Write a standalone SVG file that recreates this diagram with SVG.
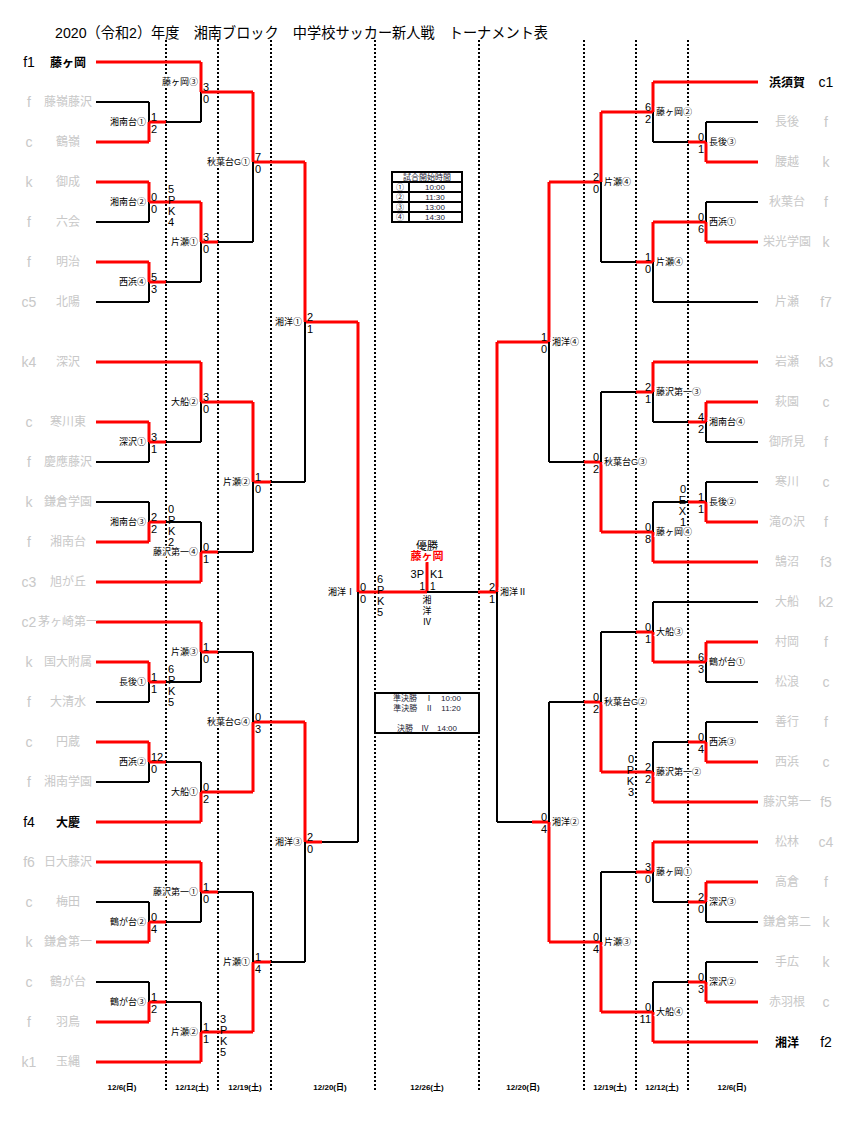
<svg xmlns="http://www.w3.org/2000/svg" width="856" height="1123" viewBox="0 0 856 1123">
<style>
text{font-family:"Liberation Sans","Noto Sans CJK JP",sans-serif;fill:#000}
.r{stroke:#f00;stroke-width:3;fill:none}
.k{stroke:#000;stroke-width:2;fill:none}
.d{stroke:#000;stroke-width:2;stroke-dasharray:2,2}
.nm{font-size:12px;fill:#c8c8c8;text-anchor:middle}
.sd{font-size:14px;fill:#c8c8c8;text-anchor:middle}
.nb{font-size:12px;font-weight:bold;text-anchor:middle}
.sb{font-size:14px;text-anchor:middle}
.ml{font-size:9px;stroke:#fff;stroke-width:3;paint-order:stroke}
.L{text-anchor:end}
.sc{font-size:11px}
.dt{font-size:8px;font-weight:bold;text-anchor:middle}
.tb{font-size:8px;fill:#223;text-anchor:middle}
</style>
<rect width="856" height="1123" fill="#fff"/>
<text x="55" y="38" textLength="493" lengthAdjust="spacingAndGlyphs" style="font-size:15px">2020（令和2）年度　湘南ブロック　中学校サッカー新人戦　トーナメント表</text>
<g id="dotted">
<line class="d" x1="166" y1="40" x2="166" y2="1092"/><line class="d" x1="218" y1="40" x2="218" y2="1092"/><line class="d" x1="271" y1="40" x2="271" y2="1092"/><line class="d" x1="375" y1="40" x2="375" y2="1092"/>
<line class="d" x1="479" y1="40" x2="479" y2="1092"/><line class="d" x1="584" y1="40" x2="584" y2="1092"/><line class="d" x1="636" y1="40" x2="636" y2="1092"/><line class="d" x1="688" y1="40" x2="688" y2="1092"/>
</g>
<g id="connectors">
<path class="r" d="M96 62H201M96 142H149M96 182H149M96 262H149M96 362H201M96 422H149M96 542H149M96 582H201M96 622H201M96 662H149M96 742H149M96 822H201M96 862H201M96 942H149M96 1022H149M96 1062H201"/>
<path class="k" d="M96 102H149M96 222H149M96 302H149M96 462H149M96 502H149M96 702H149M96 782H149M96 902H149M96 982H149"/>
<path class="k" d="M149 102V122M149 202V222M149 282V302M149 442V462M149 502V522M149 682V702M149 762V782M149 902V922M149 982V1002"/>
<path class="r" d="M149 122V142M149 182V202M149 262V282M149 422V442M149 522V542M149 662V682M149 742V762M149 922V942M149 1002V1022"/>
<path class="r" d="M149 122H166M149 202H201M149 282H166M149 442H166M149 522H166M149 682H166M149 762H166M149 922H166M149 1002H166"/>
<path class="k" d="M166 122H201M166 282H201M166 442H201M166 522H201M166 682H201M166 762H201M166 922H201M166 1002H201"/>
<path class="r" d="M201 62V92M201 202V242M201 362V402M201 552V582M201 622V652M201 792V822M201 862V892M201 1032V1062"/>
<path class="k" d="M201 92V122M201 242V282M201 402V442M201 522V552M201 652V682M201 762V792M201 892V922M201 1002V1032"/>
<path class="r" d="M201 92H253M201 242H218M201 402H253M201 552H218M201 652H218M201 792H253M201 892H218M201 1032H253"/>
<path class="k" d="M218 242H253M218 552H253M218 652H253M218 892H253"/>
<path class="r" d="M253 92V162M253 402V482M253 722V792M253 962V1032M253 162H305M253 482H271M253 722H305M253 962H271"/>
<path class="k" d="M253 162V242M253 482V552M253 652V722M253 892V962M271 482H305M271 962H305"/>
<path class="r" d="M305 162V322M305 722V842M305 322H358M305 842H322M358 322V592M358 592H427M427 562V592M478 592H497"/>
<path class="k" d="M305 322V482M305 842V962M322 842H358M358 592V842M427 592H478"/>
<path class="r" d="M653 82H758M706 162H758M706 242H758M653 362H758M706 402H758M706 522H758M653 562H758M706 642H758M706 762H758M653 802H758M653 842H758M706 882H758M706 1002H758M653 1042H758"/>
<path class="k" d="M706 122H758M706 202H758M653 302H758M706 442H758M706 482H758M653 602H758M706 682H758M706 722H758M706 922H758M706 962H758"/>
<path class="k" d="M706 122V142M706 202V222M706 422V442M706 482V502M706 662V682M706 722V742M706 902V922M706 962V982"/>
<path class="r" d="M706 142V162M706 222V242M706 402V422M706 502V522M706 642V662M706 742V762M706 882V902M706 982V1002"/>
<path class="r" d="M688 142H706M653 222H706M688 422H706M688 502H706M653 662H706M688 742H706M688 902H706M688 982H706"/>
<path class="k" d="M653 142H688M653 422H688M653 502H688M653 742H688M653 902H688M653 982H688"/>
<path class="r" d="M653 82V112M653 222V262M653 362V392M653 532V562M653 632V662M653 772V802M653 842V872M653 1012V1042"/>
<path class="k" d="M653 112V142M653 262V302M653 392V422M653 502V532M653 602V632M653 742V772M653 872V902M653 982V1012"/>
<path class="r" d="M601 112H653M636 262H653M636 392H653M601 532H653M636 632H653M601 772H653M636 872H653M601 1012H653"/>
<path class="k" d="M601 262H636M601 392H636M601 632H636M601 872H636"/>
<path class="r" d="M601 112V182M601 462V532M601 702V772M601 942V1012M549 182H601M584 462H601M584 702H601M549 942H601"/>
<path class="k" d="M601 182V262M601 392V462M601 632V702M601 872V942M549 462H584M549 702H584"/>
<path class="r" d="M549 182V342M549 822V942M497 342H549M532 822H549M497 342V592"/>
<path class="k" d="M549 342V462M549 702V822M497 822H532M497 592V822"/>
</g>
<g id="teams-left">
<text class="sb" x="29" y="67">f1</text><text class="nb" x="68" y="67">藤ヶ岡</text>
<text class="sd" x="29" y="107">f</text><text class="nm" x="68" y="106">藤嶺藤沢</text>
<text class="sd" x="29" y="147">c</text><text class="nm" x="68" y="146">鶴嶺</text>
<text class="sd" x="29" y="187">k</text><text class="nm" x="68" y="186">御成</text>
<text class="sd" x="29" y="227">f</text><text class="nm" x="68" y="226">六会</text>
<text class="sd" x="29" y="267">f</text><text class="nm" x="68" y="266">明治</text>
<text class="sd" x="29" y="307">c5</text><text class="nm" x="68" y="306">北陽</text>
<text class="sd" x="29" y="367">k4</text><text class="nm" x="68" y="366">深沢</text>
<text class="sd" x="29" y="427">c</text><text class="nm" x="68" y="426">寒川東</text>
<text class="sd" x="29" y="467">f</text><text class="nm" x="68" y="466">慶應藤沢</text>
<text class="sd" x="29" y="507">k</text><text class="nm" x="68" y="506">鎌倉学園</text>
<text class="sd" x="29" y="547">f</text><text class="nm" x="68" y="546">湘南台</text>
<text class="sd" x="29" y="587">c3</text><text class="nm" x="68" y="586">旭が丘</text>
<text class="sd" x="29" y="627">c2</text><text class="nm" x="68" y="626">茅ヶ崎第一</text>
<text class="sd" x="29" y="667">k</text><text class="nm" x="68" y="666">国大附属</text>
<text class="sd" x="29" y="707">f</text><text class="nm" x="68" y="706">大清水</text>
<text class="sd" x="29" y="747">c</text><text class="nm" x="68" y="746">円蔵</text>
<text class="sd" x="29" y="787">f</text><text class="nm" x="68" y="786">湘南学園</text>
<text class="sb" x="29" y="827">f4</text><text class="nb" x="68" y="827">大慶</text>
<text class="sd" x="29" y="867">f6</text><text class="nm" x="68" y="866">日大藤沢</text>
<text class="sd" x="29" y="907">c</text><text class="nm" x="68" y="906">梅田</text>
<text class="sd" x="29" y="947">k</text><text class="nm" x="68" y="946">鎌倉第一</text>
<text class="sd" x="29" y="987">c</text><text class="nm" x="68" y="986">鶴が台</text>
<text class="sd" x="29" y="1027">f</text><text class="nm" x="68" y="1026">羽鳥</text>
<text class="sd" x="29" y="1067">k1</text><text class="nm" x="68" y="1066">玉縄</text>
</g>
<g id="teams-right">
<text class="nb" x="787" y="87">浜須賀</text><text class="sb" x="826" y="87">c1</text>
<text class="nm" x="787" y="126">長後</text><text class="sd" x="826" y="127">f</text>
<text class="nm" x="787" y="166">腰越</text><text class="sd" x="826" y="167">k</text>
<text class="nm" x="787" y="206">秋葉台</text><text class="sd" x="826" y="207">f</text>
<text class="nm" x="787" y="246">栄光学園</text><text class="sd" x="826" y="247">k</text>
<text class="nm" x="787" y="306">片瀬</text><text class="sd" x="826" y="307">f7</text>
<text class="nm" x="787" y="366">岩瀬</text><text class="sd" x="826" y="367">k3</text>
<text class="nm" x="787" y="406">萩園</text><text class="sd" x="826" y="407">c</text>
<text class="nm" x="787" y="446">御所見</text><text class="sd" x="826" y="447">f</text>
<text class="nm" x="787" y="486">寒川</text><text class="sd" x="826" y="487">c</text>
<text class="nm" x="787" y="526">滝の沢</text><text class="sd" x="826" y="527">f</text>
<text class="nm" x="787" y="566">鵠沼</text><text class="sd" x="826" y="567">f3</text>
<text class="nm" x="787" y="606">大船</text><text class="sd" x="826" y="607">k2</text>
<text class="nm" x="787" y="646">村岡</text><text class="sd" x="826" y="647">f</text>
<text class="nm" x="787" y="686">松浪</text><text class="sd" x="826" y="687">c</text>
<text class="nm" x="787" y="726">善行</text><text class="sd" x="826" y="727">f</text>
<text class="nm" x="787" y="766">西浜</text><text class="sd" x="826" y="767">c</text>
<text class="nm" x="787" y="806">藤沢第一</text><text class="sd" x="826" y="807">f5</text>
<text class="nm" x="787" y="846">松林</text><text class="sd" x="826" y="847">c4</text>
<text class="nm" x="787" y="886">高倉</text><text class="sd" x="826" y="887">f</text>
<text class="nm" x="787" y="926">鎌倉第二</text><text class="sd" x="826" y="927">k</text>
<text class="nm" x="787" y="966">手広</text><text class="sd" x="826" y="967">k</text>
<text class="nm" x="787" y="1006">赤羽根</text><text class="sd" x="826" y="1007">c</text>
<text class="nb" x="787" y="1047">湘洋</text><text class="sb" x="826" y="1047">f2</text>
</g>
<g id="match-left" class="ml">
<text class="L" x="146" y="125">湘南台①</text><text class="L" x="146" y="205">湘南台②</text><text class="L" x="146" y="285">西浜④</text>
<text class="L" x="146" y="445">深沢①</text><text class="L" x="146" y="525">湘南台③</text><text class="L" x="146" y="685">長後①</text>
<text class="L" x="146" y="765">西浜②</text><text class="L" x="146" y="925">鶴が台②</text><text class="L" x="146" y="1005">鶴が台③</text>
<text class="L" x="198" y="85">藤ヶ岡③</text><text class="L" x="198" y="245">片瀬①</text><text class="L" x="198" y="405">大船②</text>
<text class="L" x="198" y="555">藤沢第一④</text><text class="L" x="198" y="655">片瀬③</text><text class="L" x="198" y="795">大船①</text>
<text class="L" x="198" y="895">藤沢第一①</text><text class="L" x="198" y="1035">片瀬②</text>
<text class="L" x="250" y="165">秋葉台G①</text><text class="L" x="250" y="485">片瀬②</text><text class="L" x="250" y="725">秋葉台G④</text><text class="L" x="250" y="965">片瀬①</text>
<text class="L" x="302" y="325">湘洋①</text><text class="L" x="302" y="845">湘洋③</text><text class="L" x="355" y="595">湘洋Ⅰ</text>
</g>
<g id="match-right" class="ml">
<text x="709" y="145">長後③</text><text x="709" y="225">西浜①</text><text x="709" y="425">湘南台④</text><text x="709" y="505">長後②</text>
<text x="709" y="665">鶴が台①</text><text x="709" y="745">西浜③</text><text x="709" y="905">深沢③</text><text x="709" y="985">深沢②</text>
<text x="656" y="115">藤ヶ岡②</text><text x="656" y="265">片瀬④</text><text x="656" y="395">藤沢第一③</text><text x="656" y="535">藤ヶ岡④</text>
<text x="656" y="635">大船③</text><text x="656" y="775">藤沢第一②</text><text x="656" y="875">藤ヶ岡①</text><text x="656" y="1015">大船④</text>
<text x="604" y="185">片瀬④</text><text x="604" y="465">秋葉台G③</text><text x="604" y="705">秋葉台G②</text><text x="604" y="945">片瀬③</text>
<text x="552" y="345">湘洋④</text><text x="552" y="825">湘洋②</text><text x="500" y="595">湘洋Ⅱ</text>
</g>
<g id="scores-left" class="sc">
<text x="151" y="121">1</text><text x="151" y="133">2</text>
<text x="151" y="201">0</text><text x="151" y="213">0</text>
<text x="168" y="193">5</text><text x="168" y="204">P</text><text x="168" y="215">K</text><text x="168" y="226">4</text>
<text x="151" y="281">5</text><text x="151" y="293">3</text>
<text x="203" y="91">3</text><text x="203" y="103">0</text>
<text x="203" y="241">3</text><text x="203" y="253">0</text>
<text x="255" y="161">7</text><text x="255" y="173">0</text>
<text x="307" y="321">2</text><text x="307" y="333">1</text>
<text x="151" y="441">3</text><text x="151" y="453">1</text>
<text x="203" y="401">3</text><text x="203" y="413">0</text>
<text x="151" y="521">2</text><text x="151" y="533">2</text>
<text x="168" y="513">0</text><text x="168" y="524">P</text><text x="168" y="535">K</text><text x="168" y="546">2</text>
<text x="203" y="551">0</text><text x="203" y="563">1</text>
<text x="255" y="481">1</text><text x="255" y="493">0</text>
<text x="360" y="591">0</text><text x="360" y="603">0</text>
<text x="377" y="583">6</text><text x="377" y="594">P</text><text x="377" y="605">K</text><text x="377" y="616">5</text>
<text x="151" y="681">1</text><text x="151" y="693">1</text>
<text x="168" y="673">6</text><text x="168" y="684">P</text><text x="168" y="695">K</text><text x="168" y="706">5</text>
<text x="203" y="651">1</text><text x="203" y="663">0</text>
<text x="151" y="761">12</text><text x="151" y="773">0</text>
<text x="203" y="791">0</text><text x="203" y="803">2</text>
<text x="255" y="721">0</text><text x="255" y="733">3</text>
<text x="307" y="841">2</text><text x="307" y="853">0</text>
<text x="151" y="921">0</text><text x="151" y="933">4</text>
<text x="203" y="891">1</text><text x="203" y="903">0</text>
<text x="151" y="1001">1</text><text x="151" y="1013">2</text>
<text x="203" y="1031">1</text><text x="203" y="1043">1</text>
<text x="220" y="1023">3</text><text x="220" y="1034">P</text><text x="220" y="1045">K</text><text x="220" y="1056">5</text>
<text x="255" y="961">1</text><text x="255" y="973">4</text>
</g>
<g id="scores-right" class="sc" text-anchor="end">
<text x="651" y="111">6</text><text x="651" y="123">2</text>
<text x="704" y="141">0</text><text x="704" y="153">1</text>
<text x="599" y="181">2</text><text x="599" y="193">0</text>
<text x="704" y="221">0</text><text x="704" y="233">6</text>
<text x="651" y="261">1</text><text x="651" y="273">0</text>
<text x="547" y="341">1</text><text x="547" y="353">0</text>
<text x="651" y="391">2</text><text x="651" y="403">1</text>
<text x="704" y="421">4</text><text x="704" y="433">2</text>
<text x="599" y="461">0</text><text x="599" y="473">2</text>
<text x="704" y="501">1</text><text x="704" y="513">1</text>
<text x="686" y="493">0</text><text x="686" y="504">E</text><text x="686" y="515">X</text><text x="686" y="526">1</text>
<text x="651" y="531">0</text><text x="651" y="543">8</text>
<text x="495" y="591">2</text><text x="495" y="603">1</text>
<text x="651" y="631">0</text><text x="651" y="643">1</text>
<text x="704" y="661">6</text><text x="704" y="673">3</text>
<text x="599" y="701">0</text><text x="599" y="713">2</text>
<text x="704" y="741">0</text><text x="704" y="753">4</text>
<text x="651" y="771">2</text><text x="651" y="783">2</text>
<text x="634" y="763">0</text><text x="634" y="774">P</text><text x="634" y="785">K</text><text x="634" y="796">3</text>
<text x="547" y="821">0</text><text x="547" y="833">4</text>
<text x="651" y="871">3</text><text x="651" y="883">0</text>
<text x="704" y="901">2</text><text x="704" y="913">0</text>
<text x="599" y="941">0</text><text x="599" y="953">4</text>
<text x="704" y="981">0</text><text x="704" y="993">3</text>
<text x="651" y="1011">0</text><text x="651" y="1023">11</text>
</g>
<g id="final">
<text x="427" y="550" style="font-size:11px;text-anchor:middle">優勝</text>
<text x="427" y="560" style="font-size:11px;text-anchor:middle;fill:#f00;font-weight:bold;stroke:#fff;stroke-width:2;paint-order:stroke">藤ヶ岡</text>
<text x="424" y="578" style="font-size:11px;text-anchor:end">3P</text><text x="430" y="578" style="font-size:11px">K1</text>
<text x="425" y="590" style="font-size:10px;text-anchor:end">1</text><text x="430" y="590" style="font-size:10px">1</text>
<text x="427" y="603" style="font-size:9px;text-anchor:middle">湘</text>
<text x="427" y="614" style="font-size:9px;text-anchor:middle">洋</text>
<text x="427" y="625" style="font-size:9px;text-anchor:middle">Ⅳ</text>
</g>
<g id="timetable">
<rect x="392" y="172" width="70" height="50" fill="#fff" stroke="#000" stroke-width="2"/>
<path class="k" d="M392 182H462M392 192H462M392 202H462M392 212H462M409 182V222"/>
<text class="tb" x="427" y="180">試合開始時間</text>
<text class="tb" x="400" y="190">①</text><text class="tb" x="435" y="190">10:00</text>
<text class="tb" x="400" y="200">②</text><text class="tb" x="435" y="200">11:30</text>
<text class="tb" x="400" y="210">③</text><text class="tb" x="435" y="210">13:00</text>
<text class="tb" x="400" y="220">④</text><text class="tb" x="435" y="220">14:30</text>
<rect x="375" y="693" width="104" height="40" fill="#fff" stroke="#000" stroke-width="2"/>
<text class="tb" x="427" y="701">準決勝　Ⅰ　10:00</text>
<text class="tb" x="427" y="711">準決勝　Ⅱ　11:20</text>
<text class="tb" x="427" y="731">決勝　Ⅳ　14:00</text>
</g>
<g id="dates">
<text class="dt" x="122" y="1090">12/6(日)</text><text class="dt" x="192" y="1090">12/12(土)</text><text class="dt" x="245" y="1090">12/19(土)</text><text class="dt" x="330" y="1090">12/20(日)</text>
<text class="dt" x="427" y="1090">12/26(土)</text>
<text class="dt" x="523" y="1090">12/20(日)</text><text class="dt" x="610" y="1090">12/19(土)</text><text class="dt" x="662" y="1090">12/12(土)</text><text class="dt" x="732" y="1090">12/6(日)</text>
</g>
</svg>
